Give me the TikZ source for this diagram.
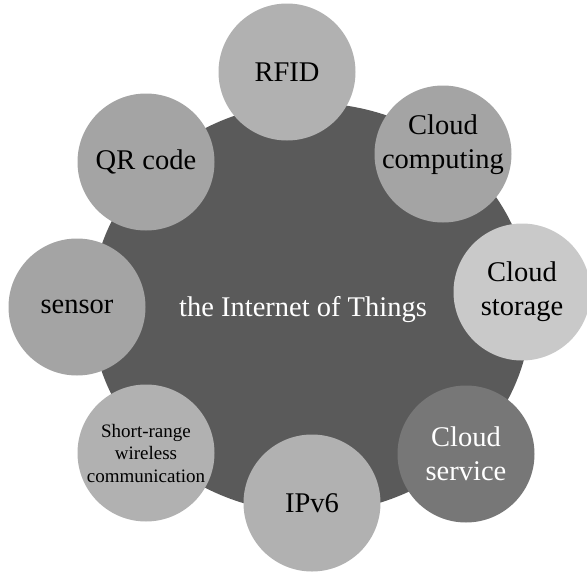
\documentclass[tikz,border=0pt]{standalone}
\usepackage{fontspec}
\setmainfont{Liberation Serif}
\definecolor{hubgray}{HTML}{5A5A5A}
\definecolor{bubgray}{HTML}{A4A4A4}
\definecolor{bubpale}{HTML}{B1B1B1}
\definecolor{bublight}{HTML}{C9C9C9}
\definecolor{bubdark}{HTML}{777777}

\begin{document}
\begin{tikzpicture}[x=1pt, y=-1pt,
    bubtext/.style={align=center, font=\fontsize{28.5}{34}\selectfont},
    bubble/.style={circle, minimum size=137pt, inner sep=0pt, fill=bubgray, bubtext},
    smalltext/.style={font=\fontsize{19}{22.5}\selectfont}]
  \useasboundingbox (0,0) rectangle (587,576);
  \clip (0,0) rectangle (587,576);
  % hub
  \fill[hubgray] (311,308) ellipse [x radius=220pt, y radius=205pt];
  \node[text=white, bubtext] (iot) at (303,310) {the Internet of Things};
  % bubbles round the hub
  \node[bubble, fill=bubpale] (rfid) at (287,72) {RFID};
  \node[bubble, label={[bubtext, yshift=9pt]center:Cloud\\computing}] (cloudcomp) at (443,154) {};
  \node[bubble, fill=bublight] (cloudstor) at (522,292) {Cloud\\storage};
  \node[bubble, fill=bubdark, text=white] (cloudserv) at (466,454) {Cloud\\service};
  \node[bubble, fill=bubpale] (ipv6) at (312,503) {IPv6};
  \node[bubble, fill=bubpale, smalltext] (shortrange) at (146,453) {Short-range\\wireless\\communication};
  \node[bubble] (sensor) at (77,307) {sensor};
  \node[bubble] (qrcode) at (146,162) {QR code};
\end{tikzpicture}
\end{document}
